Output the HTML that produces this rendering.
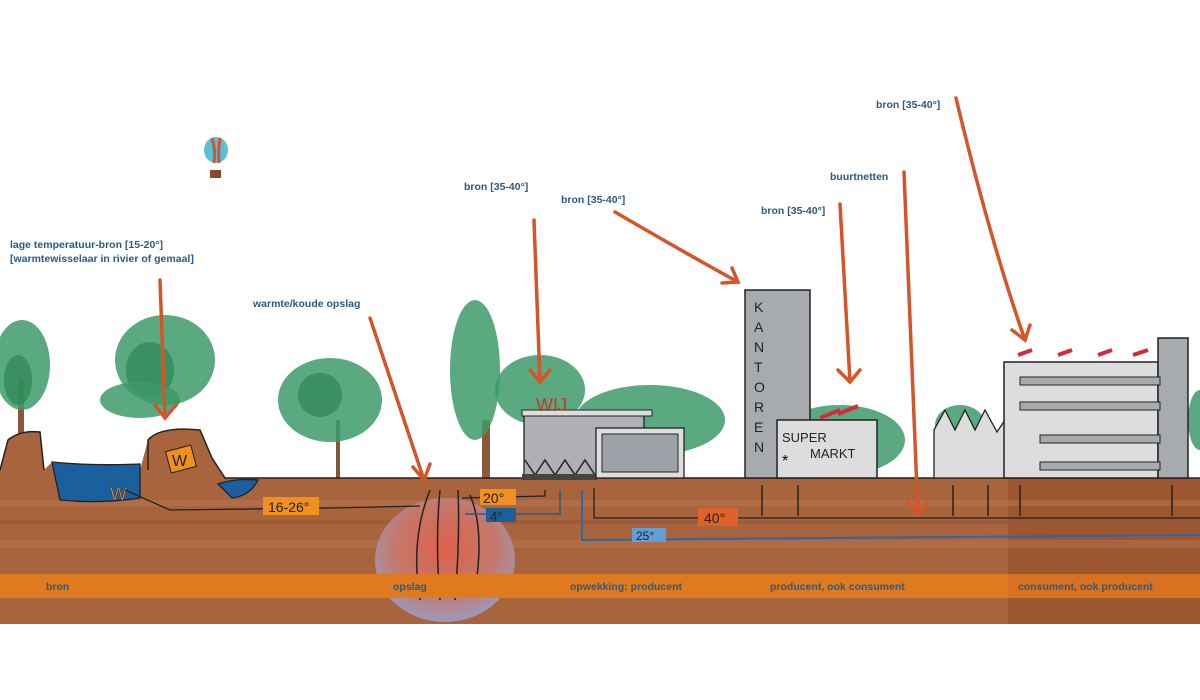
<!DOCTYPE html>
<html><head><meta charset="utf-8"><style>
html,body{margin:0;padding:0;background:#fff;width:1200px;height:700px;overflow:hidden}
svg{display:block}
text{font-family:"Liberation Sans",sans-serif}
.lb{fill:#2b5a82;font-size:10.5px;font-weight:bold}
.ar{stroke:#d4552a;stroke-width:3.5;fill:none;stroke-linecap:round}
.t{fill:#3d9a6a;opacity:.85}
.td{fill:#2e8656;opacity:.7}
.bl{stroke:#222;stroke-width:1.5;fill:none}
</style></head><body>
<svg width="1200" height="700" viewBox="0 0 1200 700" xmlns="http://www.w3.org/2000/svg">
<defs>
<radialGradient id="g1" cx="0.5" cy="0.4" r="0.6"><stop offset="0" stop-color="#e4604a"/><stop offset="0.6" stop-color="#c77a70"/><stop offset="1" stop-color="#9b9fc8"/></radialGradient>
</defs>
<!-- trees -->
<g>
<rect x="18" y="380" width="6" height="60" fill="#8a5a3a"/>
<ellipse class="t" cx="22" cy="365" rx="28" ry="45"/><ellipse class="td" cx="18" cy="380" rx="14" ry="25"/>
<ellipse class="t" cx="165" cy="360" rx="50" ry="45"/><ellipse class="td" cx="150" cy="370" rx="24" ry="28"/><ellipse class="t" cx="140" cy="400" rx="40" ry="18"/>
<rect x="336" y="420" width="4" height="58" fill="#7a5a3a"/>
<ellipse class="t" cx="330" cy="400" rx="52" ry="42"/><ellipse class="td" cx="320" cy="395" rx="22" ry="22"/>
<rect x="482" y="420" width="8" height="58" fill="#8a5a3a"/>
<ellipse class="t" cx="475" cy="370" rx="25" ry="70"/><ellipse class="t" cx="540" cy="390" rx="45" ry="35"/>
<ellipse class="t" cx="650" cy="420" rx="75" ry="35"/>
<ellipse class="t" cx="840" cy="440" rx="65" ry="35"/>
<ellipse class="t" cx="960" cy="425" rx="25" ry="20"/>
<ellipse class="t" cx="1200" cy="420" rx="12" ry="30"/>
</g>
<!-- balloon -->
<ellipse cx="216" cy="150" rx="12" ry="13" fill="#58c0d8"/><path d="M212 138 Q216 150 214 163 M220 138 Q218 150 219 163" stroke="#d4552a" stroke-width="3" fill="none"/>
<rect x="210" y="170" width="11" height="8" fill="#8a4a2a"/>
<!-- ground -->
<path d="M0 470 L8 440 Q20 430 40 432 L44 470 L52 462 Q120 465 140 470 L148 440 Q160 426 200 430 L212 458 L225 478 L1200 478 L1200 624 L0 624 Z" fill="#a8643c"/>
<rect x="1008" y="478" width="192" height="146" fill="#9c5630"/>
<rect x="0" y="500" width="1200" height="6" fill="#b87350" opacity=".6"/>
<rect x="0" y="540" width="1200" height="8" fill="#b87350" opacity=".5"/>
<rect x="0" y="520" width="1200" height="4" fill="#955232" opacity=".5"/>
<path d="M0 470 L8 440 Q20 430 40 432 L44 470 M148 470 L148 440 Q160 426 200 430 L212 458 L225 478 L1200 478" class="bl"/>
<!-- water -->
<path d="M52 462 Q90 466 140 464 L140 498 Q100 504 60 500 Z" fill="#1a5f9e" stroke="#222" stroke-width="1.3"/>
<path d="M218 484 Q235 478 258 480 Q250 496 232 498 Z" fill="#1a5f9e" stroke="#222" stroke-width="1.3"/>
<!-- heat exchangers -->
<rect x="168" y="448" width="26" height="22" fill="#f0901e" stroke="#222" transform="rotate(-15 181 459)"/>
<text x="172" y="466" font-size="16" fill="#222">W</text>
<text x="110" y="500" font-size="18" fill="#f0901e" stroke="#222" stroke-width=".4">W</text>
<!-- storage -->
<ellipse cx="445" cy="560" rx="70" ry="62" fill="url(#g1)" opacity=".9"/>
<path d="M420 600 Q410 540 430 490 M440 600 Q435 540 440 490 M455 600 Q460 540 458 490 M475 590 Q485 530 470 495" class="bl"/>
<!-- pipes -->
<path d="M125 490 L170 510 L330 508 L420 506" stroke="#222" stroke-width="1.3" fill="none"/>
<rect x="263" y="497" width="56" height="18" fill="#f0901e"/><text x="268" y="512" font-size="14" fill="#222">16-26°</text>
<path d="M462 498 L545 496 L545 490" stroke="#222" stroke-width="1.3" fill="none"/>
<rect x="480" y="489" width="36" height="16" fill="#f0901e"/><text x="483" y="503" font-size="14" fill="#222">20°</text>
<path d="M465 514 L560 514 L560 490" stroke="#2b5a82" stroke-width="1.5" fill="none"/>
<rect x="486" y="508" width="30" height="14" fill="#1a5f9e"/><text x="490" y="521" font-size="13" fill="#222">4°</text>
<path d="M582 490 L582 540 L1200 535" stroke="#2b6aa0" stroke-width="2" fill="none"/>
<rect x="632" y="528" width="34" height="14" fill="#5fa0d8"/><text x="636" y="540" font-size="12" fill="#222">25°</text>
<path d="M594 488 L594 518 L1200 518" stroke="#222" stroke-width="1.3" fill="none"/>
<rect x="698" y="508" width="40" height="18" fill="#e0602a"/><text x="704" y="523" font-size="14" fill="#222">40°</text>
<g class="bl"><path d="M762 485 V516 M798 485 V516 M953 485 V516 M988 485 V516 M1020 485 V516 M1172 485 V516"/></g>
<!-- buildings -->
<rect x="524" y="415" width="120" height="62" fill="#aeb0b4" stroke="#222" stroke-width="1.3"/>
<rect x="522" y="410" width="130" height="6" fill="#ddd" stroke="#222"/>
<path d="M525 460 L535 475 L545 460 L555 475 L565 460 L575 475 L585 460 L595 475" class="bl"/>
<rect x="522" y="474" width="75" height="6" fill="#444"/>
<rect x="596" y="428" width="88" height="50" fill="#ddd" stroke="#222" stroke-width="1.3"/>
<rect x="602" y="434" width="76" height="38" fill="#9ea2a8" stroke="#222"/>
<text x="536" y="411" font-size="18" fill="#c0392b">WIJ</text>
<rect x="745" y="290" width="65" height="188" fill="#a7aaae" stroke="#222" stroke-width="1.5"/>
<text font-size="14" fill="#222"><tspan x="754" y="312">K</tspan><tspan x="754" y="332">A</tspan><tspan x="754" y="352">N</tspan><tspan x="754" y="372">T</tspan><tspan x="754" y="392">O</tspan><tspan x="754" y="412">R</tspan><tspan x="754" y="432">E</tspan><tspan x="754" y="452">N</tspan></text>
<rect x="777" y="420" width="100" height="58" fill="#ddd" stroke="#222" stroke-width="1.5"/>
<text x="782" y="442" font-size="13" fill="#222">SUPER</text><text x="810" y="458" font-size="13" fill="#222">MARKT</text><text x="782" y="466" font-size="16">*</text>
<path d="M820 418 L840 410 M838 414 L858 406" stroke="#d42a3a" stroke-width="4"/>
<path d="M934 478 V430 L945 410 L955 430 L965 410 L975 430 L985 410 L997 432 L1005 420 L1020 432 L1020 478 Z" fill="#ddd" stroke="#222" stroke-width="1.3"/>
<path d="M1020 432 L1030 420 L1042 440 V478 H1020" fill="#ddd" stroke="#222" stroke-width="1.3"/>
<rect x="1004" y="362" width="154" height="116" fill="#ddd" stroke="#222" stroke-width="1.5"/>
<rect x="1158" y="338" width="30" height="140" fill="#a7aaae" stroke="#222" stroke-width="1.5"/>
<g fill="#a7aaae" stroke="#222"><rect x="1020" y="377" width="140" height="8"/><rect x="1020" y="402" width="140" height="8"/><rect x="1040" y="435" width="120" height="8"/><rect x="1040" y="462" width="120" height="8"/></g>
<path d="M1018 355 L1032 350 M1058 355 L1072 350 M1098 355 L1112 350 M1133 355 L1148 350" stroke="#d42a3a" stroke-width="4"/>
<!-- orange band -->
<rect x="0" y="574" width="1200" height="24" fill="#e07a1e"/>
<rect x="1008" y="574" width="192" height="24" fill="#d87222"/>
<g class="lb"><text x="46" y="590">bron</text><text x="393" y="590">opslag</text><text x="570" y="590">opwekking: producent</text><text x="770" y="590">producent, ook consument</text><text x="1018" y="590">consument, ook producent</text></g>
<!-- arrows -->
<g class="ar">
<path d="M160 280 L165 418 M155 405 L165 418 L176 405"/>
<path d="M370 318 L424 480 M413 467 L424 480 L430 464"/>
<path d="M534 220 L540 382 M530 370 L540 382 L550 370"/>
<path d="M615 212 Q680 250 738 282 M722 283 L738 282 L732 268"/>
<path d="M840 204 L850 382 M838 370 L850 382 L860 370"/>
<path d="M904 172 L918 515 M908 502 L918 515 L928 502"/>
<path d="M956 98 Q990 240 1025 340 M1012 330 L1025 340 L1030 325"/>
</g>
<g class="lb">
<text x="10" y="248">lage temperatuur-bron [15-20°]</text>
<text x="10" y="262">[warmtewisselaar in rivier of gemaal]</text>
<text x="253" y="307">warmte/koude opslag</text>
<text x="464" y="190">bron [35-40°]</text>
<text x="561" y="203">bron [35-40°]</text>
<text x="761" y="214">bron [35-40°]</text>
<text x="830" y="180">buurtnetten</text>
<text x="876" y="108">bron [35-40°]</text>
</g>
</svg>
</body></html>
